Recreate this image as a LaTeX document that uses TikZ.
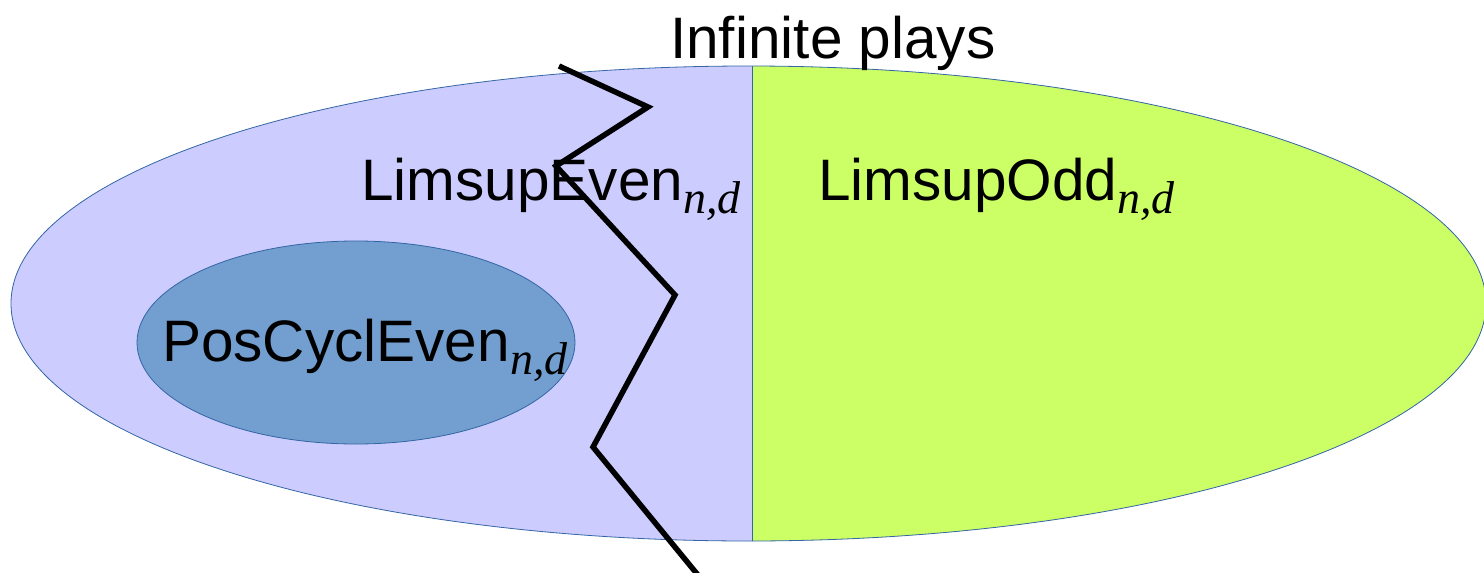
\documentclass[tikz,border=0pt]{standalone}
\usepackage{fontspec}
\setmainfont{Liberation Sans}
\newfontfamily\idxfont{Liberation Serif}
\definecolor{evenfill}{HTML}{CCCCFF}
\definecolor{oddfill}{HTML}{CCFF66}
\definecolor{cycfill}{HTML}{729FCF}
\definecolor{rim}{HTML}{3465A4}
\newcommand{\idx}{\raisebox{-13pt}{\fontsize{46}{46}\idxfont\itshape n,d}}
\begin{document}
\begin{tikzpicture}[x=1pt,y=-1pt,
  label/.style={inner sep=0pt, anchor=base west, font=\fontsize{58.5}{60}\selectfont},
  rimline/.style={draw=rim, line width=0.8pt},
  cut/.style={draw=black, line width=5.5pt, line join=miter}]
  \useasboundingbox (0,0) rectangle (1484,573);
  % outer set of plays, split into an even and an odd half
  \fill[evenfill] (748.5,303.5) ellipse [x radius=737.5, y radius=237.5];
  \begin{scope}
    \clip (748.5,303.5) ellipse [x radius=737.5, y radius=237.5];
    \fill[oddfill] (752,0) rectangle (1500,600);
    \draw[rim, line width=0.6pt] (752,0) -- (752,600);
  \end{scope}
  \draw[rimline] (748.5,303.5) ellipse [x radius=737.5, y radius=237.5];
  % inner set
  \filldraw[fill=cycfill, rimline] (356,342.5) ellipse [x radius=219, y radius=101.5];
  % labels
  \node[label] (top) at (670,58) {Infinite plays};
  \node[label] (even) at (361,200) {LimsupEven\idx};
  \node[label] (odd) at (818,200) {LimsupOdd\idx};
  \node[label] (cyc) at (162,361) {PosCyclEven\idx};
  % zigzag cut
  \coordinate (z0) at (559,66);
  \coordinate (z1) at (648,107);
  \coordinate (z2) at (556,166);
  \coordinate (z3) at (675,295);
  \coordinate (z4) at (593,447);
  \coordinate (z5) at (702,580);
  \draw[cut] (z0) -- (z1) -- (z2) -- (z3) -- (z4) -- (z5);
\end{tikzpicture}
\end{document}
